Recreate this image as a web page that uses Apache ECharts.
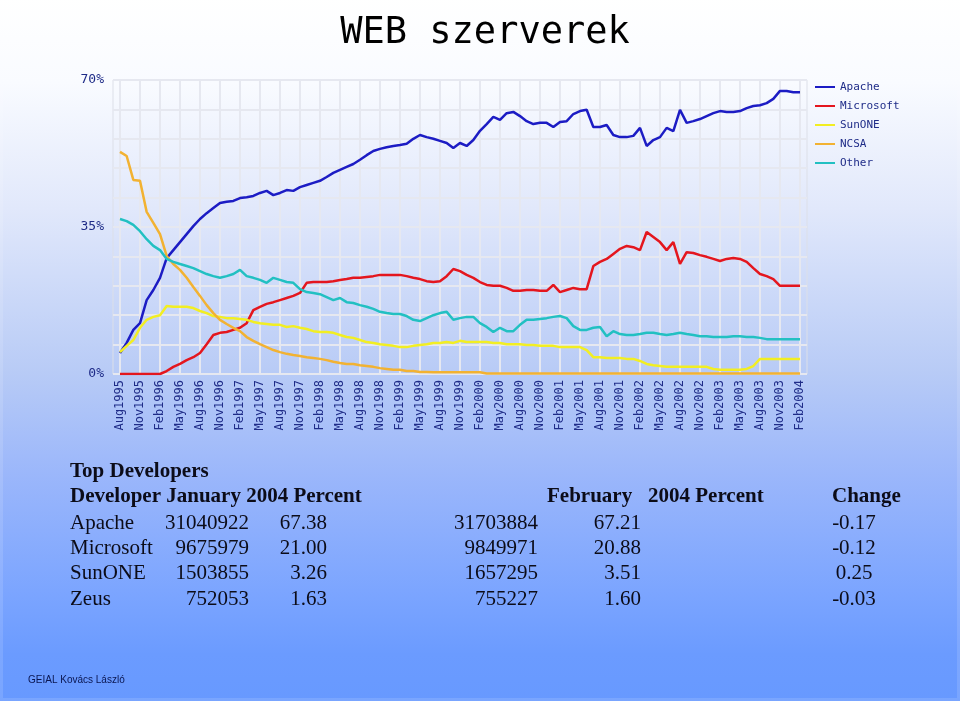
<!DOCTYPE html>
<html>
<head>
<meta charset="utf-8">
<script src="https://cdn.jsdelivr.net/npm/echarts@6/dist/echarts.min.js"></script>
<style>
  html, body { margin: 0; padding: 0; }
  #main { width: 960px; height: 701px; }
</style>
</head>
<body>
<div id="main"></div>
<script>
// quarterly tick labels (month index 0 = Aug 1995, one label every 3 months)
const tickLabels = ['Aug1995','Nov1995','Feb1996','May1996','Aug1996','Nov1996','Feb1997','May1997','Aug1997','Nov1997',
  'Feb1998','May1998','Aug1998','Nov1998','Feb1999','May1999','Aug1999','Nov1999','Feb2000','May2000',
  'Aug2000','Nov2000','Feb2001','May2001','Aug2001','Nov2001','Feb2002','May2002','Aug2002','Nov2002',
  'Feb2003','May2003','Aug2003','Nov2003','Feb2004']

const seriesNames = ['Apache', 'Microsoft', 'SunONE', 'NCSA', 'Other']
const seriesColors = ['#1c1cc4', '#e4161e', '#f2ee22', '#f2b232', '#22c0c2']

// monthly market share in percent, Aug 1995 .. Feb 2004
const apache = [5.0,7.4,10.5,12.1,17.6,20,22.9,27.6,29.5,31.4,33.3,35.2,36.9,38.3,39.5,40.7,41,41.2,41.9,42.1,42.4,43.1,43.6,42.6,43.1,43.8,
  43.6,44.5,45,45.5,46,46.9,47.9,48.6,49.3,50,51,52.1,53.1,53.6,54,54.3,54.5,54.8,56,56.9,56.4,56,55.5,55,53.8,55,
  54.3,55.7,57.9,59.5,61.2,60.5,62.1,62.4,61.4,60.2,59.5,59.8,59.8,58.8,60,60.2,61.9,62.6,62.9,58.8,58.8,59.3,56.9,56.4,56.4,56.7,58.6,
  54.3,55.7,56.4,58.6,57.8,62.9,59.8,60.2,60.7,61.4,62.1,62.6,62.4,62.4,62.6,63.3,63.8,64,64.5,65.5,67.4,67.4,67.1,67.1]
const microsoft = [0,0,0,0,0,0,0,0.7,1.7,2.4,3.3,4,5,7.1,9.3,9.8,10,10.5,11,12.1,15.2,16,16.7,17.1,17.6,18.1,
  18.6,19.3,21.7,21.9,21.9,21.9,22.1,22.4,22.6,22.9,22.9,23.1,23.3,23.6,23.6,23.6,23.6,23.3,22.9,22.6,22.1,21.9,22.1,23.3,25,24.5,
  23.6,22.9,21.9,21.2,21,21,20.5,19.8,19.8,20,20,19.8,19.8,21.2,19.5,20,20.5,20.2,20.2,25.7,26.7,27.4,28.6,29.8,30.5,30.2,29.5,
  33.8,32.6,31.4,29.5,31.4,26.2,29,28.8,28.3,27.9,27.4,26.9,27.4,27.6,27.4,26.7,25.2,23.8,23.3,22.6,21,21,21,21]
const sunone = [5.2,6.7,8.1,11,12.9,13.6,14,16.2,16,16,16,15.7,15,14.5,13.8,13.6,13.3,13.3,13.1,12.9,12.4,12.1,11.9,11.7,11.7,11.2,
  11.4,11,10.7,10.2,10,10,9.8,9.3,8.8,8.6,8.1,7.6,7.4,7.1,6.9,6.7,6.4,6.4,6.7,6.9,7.1,7.4,7.4,7.6,7.4,7.9,
  7.6,7.6,7.6,7.6,7.4,7.4,7.1,7.1,7.1,6.9,6.9,6.7,6.7,6.7,6.4,6.4,6.4,6.4,5.7,4,4,3.8,3.8,3.8,3.6,3.6,3.1,
  2.4,2.1,1.9,1.7,1.7,1.7,1.7,1.7,1.7,1.7,1.2,1,1,1,1,1.2,1.9,3.6,3.6,3.6,3.6,3.6,3.6,3.6]
const ncsa = [52.9,51.9,46.2,46,38.6,36,33.3,28.1,26.2,24.8,22.9,20.7,18.6,16.4,14.5,12.9,11.9,11,10.2,8.8,7.9,7.1,6.4,5.7,5.2,4.8,
  4.5,4.3,4,3.8,3.6,3.3,2.9,2.6,2.4,2.4,2.1,1.9,1.7,1.4,1.2,1,1,0.7,0.7,0.5,0.5,0.4,0.4,0.4,0.4,0.4,
  0.4,0.4,0.4,0.1,0.1,0.1,0.1,0.1,0.1,0.1,0.1,0.1,0.1,0.1,0.1,0.1,0.1,0.1,0.1,0.1,0.1,0.1,0.1,0.1,0.1,0.1,0.1,
  0.1,0.1,0.1,0.1,0.1,0.1,0.1,0.1,0.1,0.1,0.1,0.1,0.1,0.1,0.1,0.1,0.1,0.1,0.1,0.1,0.1,0.1,0.1,0.1]
const other = [36.9,36.4,35.5,34,32.1,30.5,29.5,27.4,26.7,26.2,25.7,25.2,24.5,23.8,23.3,22.9,23.3,23.8,24.8,23.3,22.9,22.4,21.7,22.9,22.4,21.9,
  21.7,20.2,19.5,19.3,19,18.3,17.6,18.1,17.1,16.9,16.4,16,15.5,14.8,14.5,14.3,14.3,13.8,12.9,12.6,13.3,14,14.5,14.8,12.9,13.3,
  13.6,13.6,12.1,11.2,10,11,10.2,10.2,11.7,12.9,12.9,13.1,13.3,13.6,13.8,13.3,11.4,10.5,10.5,11,11.2,9,10.2,9.5,9.3,9.3,9.5,
  9.8,9.8,9.5,9.3,9.5,9.8,9.5,9.3,9,9,8.8,8.8,8.8,9,9,8.8,8.8,8.6,8.3,8.3,8.3,8.3,8.3,8.3]

// table under the chart
const tableTitle = 'Top Developers'
const devNames = ['Apache', 'Microsoft', 'SunONE', 'Zeus']
const janCount = ['31040922', '9675979', '1503855', '752053']
const janPct = ['67.38', '21.00', '3.26', '1.63']
const febCount = ['31703884', '9849971', '1657295', '755227']
const febPct = ['67.21', '20.88', '3.51', '1.60']
const change = ['-0.17', '-0.12', '0.25', '-0.03']

const mono = "'DejaVu Sans Mono', monospace"
const serif = "'Liberation Serif', 'Times New Roman', serif"
const labelColor = '#1f2c88'
const gridColor = '#e6e8f0'

const allData = [apache, microsoft, sunone, ncsa, other]

var chartDom = document.getElementById('main')
var myChart = echarts.init(chartDom)

const txt = (text, x, y, opts) => ({
  type: 'text',
  silent: true,
  z: 10,
  style: Object.assign({
    text: text, x: x, y: y,
    fontFamily: serif, fontSize: 21, fill: '#0c0c18',
    textAlign: 'left', textVerticalAlign: 'middle'
  }, opts || {})
})

const graphics = [
  {
    type: 'rect',
    silent: true,
    z: -10,
    shape: { x: 0, y: 0, width: 960, height: 701 },
    style: {
      fill: new echarts.graphic.LinearGradient(0, 0, 0, 1, [
        { offset: 0, color: '#ffffff' },
        { offset: 0.12, color: '#f9fbff' },
        { offset: 0.3, color: '#e1e8fb' },
        { offset: 0.53, color: '#b8cbf6' },
        { offset: 0.68, color: '#9ab6fb' },
        { offset: 0.85, color: '#7aa4ff' },
        { offset: 0.93, color: '#6b9bff' },
        { offset: 1, color: '#6799ff' }
      ]),
      stroke: 'rgba(255,255,255,0.12)',
      lineWidth: 6
    }
  },
  txt('WEB szerverek', 485, 33, { fontFamily: mono, fontSize: 37, fill: '#000', textAlign: 'center' }),
  txt(tableTitle, 70, 472, { fontWeight: 'bold' }),
  txt('Developer January 2004 Percent', 70, 497, { fontWeight: 'bold' }),
  txt('February', 547, 497, { fontWeight: 'bold' }),
  txt('2004 Percent', 648, 497, { fontWeight: 'bold' }),
  txt('Change', 832, 497, { fontWeight: 'bold' }),
  txt('GEIAL Kovács László', 28, 680, { fontFamily: "'Liberation Sans', Arial, sans-serif", fontSize: 10, fill: '#0a1650' })
]
devNames.forEach((name, i) => {
  const y = 523 + i * 25.4
  graphics.push(txt(name, 70, y))
  graphics.push(txt(janCount[i], 249, y, { textAlign: 'right' }))
  graphics.push(txt(janPct[i], 327, y, { textAlign: 'right' }))
  graphics.push(txt(febCount[i], 538, y, { textAlign: 'right' }))
  graphics.push(txt(febPct[i], 641, y, { textAlign: 'right' }))
  graphics.push(txt(change[i], 854, y, { textAlign: 'center' }))
})

var option = {
  animation: false,
  graphic: graphics,
  legend: {
    orient: 'vertical',
    left: 815,
    top: 81,
    padding: 0,
    icon: 'rect',
    itemWidth: 20,
    itemHeight: 2,
    itemGap: 7,
    textStyle: { fontFamily: mono, fontSize: 11, color: labelColor, lineHeight: 12 },
    data: seriesNames
  },
  grid: [
    // outer frame + horizontal gridlines
    { left: 113, top: 80, width: 694, height: 294, show: true, borderColor: '#dcdfe8', borderWidth: 1 },
    // data area, Aug1995 .. Feb2004
    { left: 120, top: 80, width: 680, height: 294 }
  ],
  xAxis: [
    { gridIndex: 0, type: 'value', min: 0, max: 1, show: false },
    {
      gridIndex: 1,
      type: 'value',
      min: 0,
      max: 102,
      interval: 3,
      axisLine: { show: false },
      axisTick: { show: false },
      splitLine: { show: true, lineStyle: { color: gridColor, width: 2 } },
      axisLabel: {
        rotate: 90,
        margin: 6,
        fontFamily: mono,
        fontSize: 12,
        color: labelColor,
        formatter: v => tickLabels[Math.round(v / 3)]
      }
    }
  ],
  yAxis: [
    {
      gridIndex: 0,
      type: 'value',
      min: 0,
      max: 70,
      interval: 7,
      axisLine: { show: false },
      axisTick: { show: false },
      splitLine: { show: true, lineStyle: { color: gridColor, width: 2 } },
      axisLabel: {
        margin: 9,
        fontFamily: mono,
        fontSize: 13,
        color: labelColor,
        formatter: v => (v % 35 === 0 ? v + '%' : '')
      }
    },
    { gridIndex: 1, type: 'value', min: 0, max: 70, show: false }
  ],
  series: seriesNames.map((name, k) => ({
    name: name,
    type: 'line',
    xAxisIndex: 1,
    yAxisIndex: 1,
    symbol: 'none',
    color: seriesColors[k],
    lineStyle: { width: 2.5, color: seriesColors[k] },
    data: allData[k].map((v, i) => [i, v])
  }))
}
option && myChart.setOption(option)
</script>
</body>
</html>
